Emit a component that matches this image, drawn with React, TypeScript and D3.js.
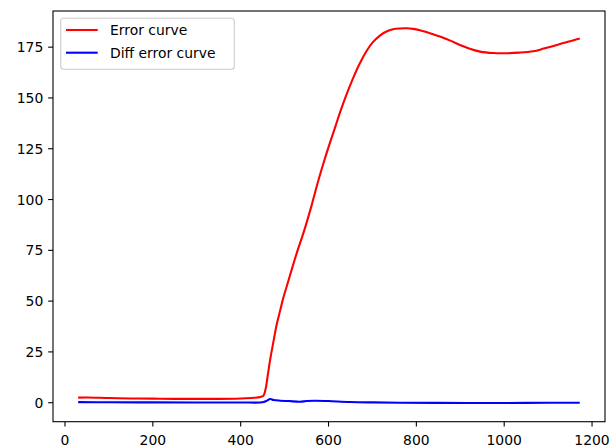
import React, {useEffect, useRef} from 'react'
import * as d3 from 'd3'

// error curve samples (x = iteration, y = error)
const errX = [30, 50, 100, 150, 200, 250, 300, 350, 400, 430, 445, 452, 457, 462, 467, 475, 482, 490, 497, 510, 520, 530, 543, 552, 562, 570, 577, 590, 603, 615, 626, 640, 656, 670, 687, 700, 717, 732, 747, 762, 778, 793, 808, 830, 854, 877, 899, 920, 945, 975, 1005, 1035, 1066, 1090, 1120, 1145, 1172];
const errY = [2.5, 2.6, 2.3, 2.1, 2.0, 1.9, 1.9, 1.9, 2.1, 2.4, 2.8, 3.5, 7, 14, 21, 30.5, 38.5, 45.5, 51.5, 61, 68.3, 75.2, 83.6, 90, 97.5, 104, 109.5, 119, 127.8, 135.5, 142.8, 151.2, 159.8, 166.5, 173.2, 177.2, 180.7, 182.7, 183.8, 184.2, 184.3, 184, 183.3, 181.9, 180.2, 178.2, 176.1, 174.3, 172.8, 172.1, 172, 172.3, 173, 174.3, 176.1, 177.7, 179.3];

// diff error curve samples
const diffX = [30, 100, 200, 300, 400, 445, 452, 460, 467, 475, 490, 510, 535, 550, 569, 600, 649, 700, 763, 850, 950, 1050, 1172];
const diffY = [0.3, 0.2, 0.15, 0.1, 0.1, 0.1, 0.3, 1.0, 1.8, 1.3, 1.0, 0.8, 0.5, 0.8, 1.0, 0.8, 0.35, 0.15, 0.0, -0.1, -0.15, -0.1, 0.0];

const xTicks = [0, 200, 400, 600, 800, 1000, 1200];
const yTicks = [0, 25, 50, 75, 100, 125, 150, 175];
const seriesNames = ['Error curve', 'Diff error curve'];
const seriesColors = ['#ff0000', '#0000ff'];

const App = () => {
  const ref = useRef(null);
  const width = 610, height = 448;
  const left = 53, right = 605, top = 11, bottom = 421.7;
  const font = 'DejaVu Sans';
  const fs = 13.9;

  useEffect(() => {
    const svg = d3.select(ref.current);
    svg.selectAll('*').remove();

    const xScale = d3.scaleLinear().domain([-27.3, 1229.5]).range([left, right]);
    const yScale = d3.scaleLinear().domain([-9.35, 192.8]).range([bottom, top]);

    const line = d3.line()
      .x(d => xScale(d[0]))
      .y(d => yScale(d[1]))
      .curve(d3.curveCatmullRom.alpha(0.5));

    const errData = errX.map((x, i) => [x, errY[i]]);
    const diffData = diffX.map((x, i) => [x, diffY[i]]);

    svg.append('path')
      .datum(errData)
      .attr('fill', 'none')
      .attr('stroke', seriesColors[0])
      .attr('stroke-width', 2.08)
      .attr('d', line);

    svg.append('path')
      .datum(diffData)
      .attr('fill', 'none')
      .attr('stroke', seriesColors[1])
      .attr('stroke-width', 2.08)
      .attr('d', line);

    // x ticks
    const xg = svg.append('g');
    xTicks.forEach(t => {
      const px = xScale(t);
      xg.append('line')
        .attr('x1', px).attr('x2', px)
        .attr('y1', bottom).attr('y2', bottom + 4.86)
        .attr('stroke', '#000').attr('stroke-width', 1.1);
      xg.append('text')
        .attr('x', px).attr('y', bottom + 23.5)
        .attr('text-anchor', 'middle')
        .attr('font-family', font).attr('font-size', fs)
        .attr('fill', '#000')
        .text(t);
    });

    // y ticks
    const yg = svg.append('g');
    yTicks.forEach(t => {
      const py = yScale(t);
      yg.append('line')
        .attr('x1', left - 4.86).attr('x2', left)
        .attr('y1', py).attr('y2', py)
        .attr('stroke', '#000').attr('stroke-width', 1.1);
      yg.append('text')
        .attr('x', left - 9.7).attr('y', py + 5)
        .attr('text-anchor', 'end')
        .attr('font-family', font).attr('font-size', fs)
        .attr('fill', '#000')
        .text(t);
    });

    // axes frame
    svg.append('rect')
      .attr('x', left).attr('y', top)
      .attr('width', right - left).attr('height', bottom - top)
      .attr('fill', 'none')
      .attr('stroke', '#000')
      .attr('stroke-width', 1.1);

    // legend
    const lg = svg.append('g');
    lg.append('rect')
      .attr('x', 60.7).attr('y', 18.3)
      .attr('width', 173.6).attr('height', 51)
      .attr('rx', 3)
      .attr('fill', '#fff').attr('fill-opacity', 0.8)
      .attr('stroke', '#cccccc').attr('stroke-width', 1.1);
    seriesNames.forEach((name, i) => {
      const ly = 30 + i * 22.7;
      lg.append('line')
        .attr('x1', 66).attr('x2', 97.7)
        .attr('y1', ly).attr('y2', ly)
        .attr('stroke', seriesColors[i]).attr('stroke-width', 2.08);
      lg.append('text')
        .attr('x', 110).attr('y', ly + 5)
        .attr('font-family', font).attr('font-size', fs)
        .attr('fill', '#000')
        .text(name);
    });
  }, []);

  return (
    <svg ref={ref} width={width} height={height}
         style={{position: 'absolute', left: 0, top: 0, background: '#fff'}}>
    </svg>
  )
};

export default App
